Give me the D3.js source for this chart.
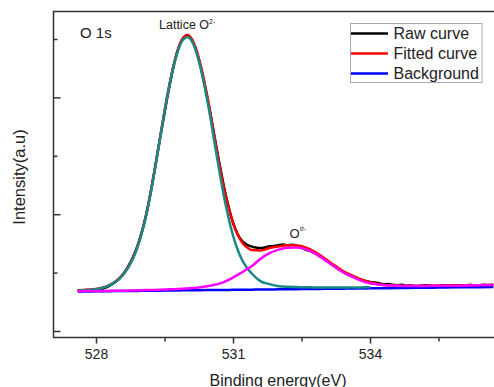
<!DOCTYPE html>
<html>
<head>
<meta charset="utf-8">
<script src="https://cdnjs.cloudflare.com/ajax/libs/d3/7.8.5/d3.min.js"></script>
<style>
  body { margin: 0; background: #fff; }
  text { font-family: "Liberation Sans", Arial, sans-serif; fill: #222; }
</style>
</head>
<body>
<div id="graph"></div>
<script>
// binding energy grid (eV) for the fitted components
var fitEnergy = [527.6, 527.8, 528.0, 528.2, 528.4, 528.6, 528.8, 528.9, 529.0, 529.1, 529.2, 529.3, 529.4, 529.5, 529.6, 529.7, 529.8, 529.9,
  530.0, 530.1, 530.2, 530.3, 530.4, 530.5, 530.6, 530.7, 530.8, 530.9, 531.0, 531.1, 531.2, 531.3, 531.4, 531.6, 531.8,
  532.0, 532.2, 532.4, 532.6, 532.8, 533.0, 533.2, 533.4, 533.6, 533.8, 534.0, 534.3, 534.6, 535.0, 535.5, 536.0, 536.7];

// background (x1000 counts)
var background = [6.76, 6.78, 6.79, 6.81, 6.83, 6.84, 6.86, 6.87, 6.88, 6.89, 6.90, 6.90, 6.91, 6.92, 6.93, 6.94, 6.95, 6.96,
  6.96, 6.97, 6.98, 6.99, 7.00, 7.01, 7.01, 7.02, 7.03, 7.04, 7.05, 7.06, 7.06, 7.07, 7.08, 7.10, 7.12,
  7.13, 7.15, 7.17, 7.18, 7.20, 7.22, 7.23, 7.25, 7.27, 7.28, 7.30, 7.33, 7.35, 7.39, 7.43, 7.47, 7.53];

// lattice O2- peak, height above background (ends at 534 eV)
var latticePeak = [0.15, 0.22, 0.35, 0.7, 1.45, 2.8, 5.4, 7.3, 9.8, 12.9, 16.8, 21.2, 25.9, 30.6, 34.77, 38.37, 41.15, 42.88,
  43.4, 42.64, 40.68, 37.71, 33.98, 29.77, 25.0, 20.4, 16.1, 12.4, 9.3, 6.9, 5.1, 3.8, 2.85, 1.45, 0.9,
  0.55, 0.42, 0.35, 0.3, 0.27, 0.25, 0.23, 0.21, 0.2, 0.19, 0.18];

// O(sigma-) peak, height above background
var sigmaPeak = [0.05, 0.05, 0.05, 0.05, 0.06, 0.07, 0.08, 0.09, 0.1, 0.11, 0.12, 0.14, 0.16, 0.18, 0.2, 0.23, 0.26, 0.29,
  0.33, 0.38, 0.44, 0.52, 0.62, 0.75, 0.9, 1.1, 1.35, 1.7, 2.1, 2.55, 3.0, 3.5, 3.95, 5.25, 6.2,
  6.8, 7.1, 7.12, 6.8, 6.05, 5.0, 3.9, 2.85, 2.05, 1.35, 0.88, 0.55, 0.4, 0.33, 0.3, 0.31, 0.35];

// raw spectrum
var rawEnergy = [527.6, 527.7, 527.8, 527.9, 528.0, 528.1, 528.2, 528.3, 528.4, 528.5, 528.6, 528.7, 528.8, 528.9,
  529.0, 529.1, 529.2, 529.3, 529.4, 529.5, 529.6, 529.7, 529.8, 529.9, 530.0, 530.1, 530.2, 530.3, 530.4, 530.5,
  530.6, 530.7, 530.8, 530.9, 531.0, 531.1, 531.2, 531.3, 531.4, 531.5, 531.6, 531.7, 531.8, 531.9, 532.0, 532.1,
  532.2, 532.3, 532.4, 532.5, 532.6, 532.7, 532.8, 532.9, 533.0, 533.1, 533.2, 533.3, 533.4, 533.5, 533.6, 533.7,
  533.8, 533.9, 534.0, 534.1, 534.2, 534.3, 534.4, 534.5, 534.6, 534.7, 534.8, 534.9, 535.0, 535.1, 535.2, 535.3,
  535.4, 535.5, 535.6, 535.7, 535.8, 535.9, 536.0, 536.1, 536.2, 536.3, 536.4, 536.5, 536.6, 536.7];
var rawCounts = [6.95, 6.98, 7.0, 7.05, 7.1, 7.2, 7.4, 7.75, 8.25, 8.9, 9.8, 11.0, 12.5, 14.4,
  16.9, 20.0, 23.9, 28.3, 32.9, 37.3, 41.6, 45.4, 48.3, 50.0, 50.5, 49.8, 47.9, 45.0, 41.4, 37.4,
  33.1, 28.8, 24.8, 21.4, 18.6, 16.6, 15.4, 14.8, 14.5, 14.3, 14.2, 14.3, 14.5, 14.55, 14.7, 14.8,
  14.7, 14.75, 14.6, 14.3, 13.9, 13.7, 13.3, 12.85, 12.3, 11.8, 11.2, 10.7, 10.2, 9.7, 9.45, 9.05,
  8.8, 8.55, 8.4, 8.3, 8.2, 8.0, 8.05, 7.9, 7.85, 7.9, 7.75, 7.8, 7.72, 7.75, 7.85, 7.78,
  7.7, 7.75, 7.82, 7.74, 7.8, 7.85, 7.78, 7.82, 7.9, 7.8, 7.85, 7.92, 7.86, 7.9];

var majorX = [528, 531, 534], minorX = [529.5, 532.5, 535.5];
var majorY = [0, 20, 40], minorY = [10, 30, 50];
var legendItems = ["Raw curve", "Fitted curve", "Background"];
var legendColors = ["#000000", "#ff0000", "#0000ff"];

var width = 494, height = 387;
var plotLeft = 53.5, plotTop = 11.5, plotBottom = 337.5;

var svg = d3.select("#graph").append("svg")
  .attr("width", width).attr("height", height);

var x = d3.scaleLinear().domain([528, 534]).range([96, 370]);
var y = d3.scaleLinear().domain([0, 50]).range([331, 39]);

// build series
var bgPts = fitEnergy.map(function (e, i) { return [e, background[i]]; });
var latPts = latticePeak.map(function (v, i) { return [fitEnergy[i], background[i] + v]; });
var sigPts = sigmaPeak.map(function (v, i) { return [fitEnergy[i], background[i] + v]; });
var fitPts = fitEnergy.map(function (e, i) {
  return [e, background[i] + (latticePeak[i] || 0) + sigmaPeak[i]];
});
var rawPts = rawEnergy.map(function (e, i) { return [e, rawCounts[i]]; });

var line = d3.line()
  .x(function (d) { return x(d[0]); })
  .y(function (d) { return y(d[1]); })
  .curve(d3.curveMonotoneX);

svg.append("clipPath").attr("id", "clip").append("rect")
  .attr("x", plotLeft).attr("y", plotTop).attr("width", width - plotLeft).attr("height", plotBottom - plotTop);

var plot = svg.append("g").attr("clip-path", "url(#clip)");
var series = [
  { pts: rawPts, color: "#000000" },
  { pts: fitPts, color: "#ff0000" },
  { pts: bgPts, color: "#0000ff" },
  { pts: latPts, color: "#168a86" },
  { pts: sigPts, color: "#ff00ff" }
];
series.forEach(function (s) {
  plot.append("path").datum(s.pts)
    .attr("d", line)
    .attr("fill", "none")
    .attr("stroke", s.color)
    .attr("stroke-width", 2.5)
    .attr("stroke-linejoin", "round");
});

// frame
svg.append("path")
  .attr("d", "M" + width + "," + plotTop + "H" + plotLeft + "V" + plotBottom + "H" + width)
  .attr("fill", "none").attr("stroke", "#333").attr("stroke-width", 1.5);

// x axis ticks
var xMajor = svg.append("g").attr("transform", "translate(0," + plotBottom + ")")
  .call(d3.axisBottom(x).tickValues(majorX).tickSize(6).tickPadding(6).tickFormat(d3.format("d")));
var xMinor = svg.append("g").attr("transform", "translate(0," + plotBottom + ")")
  .call(d3.axisBottom(x).tickValues(minorX).tickSize(4).tickFormat(""));

// y axis ticks (inward)
var yMajor = svg.append("g").attr("transform", "translate(" + plotLeft + ",0)")
  .call(d3.axisRight(y).tickValues(majorY).tickSize(7).tickFormat(""));
var yMinor = svg.append("g").attr("transform", "translate(" + plotLeft + ",0)")
  .call(d3.axisRight(y).tickValues(minorY).tickSize(4).tickFormat(""));

[xMajor, xMinor, yMajor, yMinor].forEach(function (g) {
  g.select(".domain").remove();
  g.selectAll("line").attr("stroke", "#333").attr("stroke-width", 1.5);
  g.selectAll("text").attr("font-size", "14px").attr("font-family", "Liberation Sans, Arial, sans-serif").attr("fill", "#222");
});

// axis titles
svg.append("text").attr("x", 278).attr("y", 385.5).attr("text-anchor", "middle")
  .attr("font-size", "16px").text("Binding energy(eV)");
svg.append("text").attr("transform", "translate(25,177) rotate(-90)").attr("text-anchor", "middle")
  .attr("font-size", "16.5px").text("Intensity(a.u)");

// annotations
svg.append("text").attr("x", 80).attr("y", 37.5).attr("font-size", "15px").text("O 1s");
var lat = svg.append("text").attr("x", 159).attr("y", 29).attr("font-size", "12.5px");
lat.append("tspan").text("Lattice O");
lat.append("tspan").attr("font-size", "7px").attr("dy", "-5").text("2-");
var sig = svg.append("text").attr("x", 289.5).attr("y", 237.5).attr("font-size", "13px");
sig.append("tspan").text("O");
sig.append("tspan").attr("font-size", "6.5px").attr("dy", "-7").text("σ-");

// legend
var lg = svg.append("g");
lg.append("rect").attr("x", 350.5).attr("y", 23.5).attr("width", 131.5).attr("height", 59)
  .attr("fill", "#fff").attr("stroke", "#aaa").attr("stroke-width", 1);
legendItems.forEach(function (name, i) {
  var yy = 33.5 + i * 20;
  lg.append("line").attr("x1", 351).attr("x2", 388).attr("y1", yy).attr("y2", yy)
    .attr("stroke", legendColors[i]).attr("stroke-width", 2.5);
  lg.append("text").attr("x", 393.5).attr("y", yy + 5.7).attr("font-size", "16px").text(name);
});
</script>
</body>
</html>
